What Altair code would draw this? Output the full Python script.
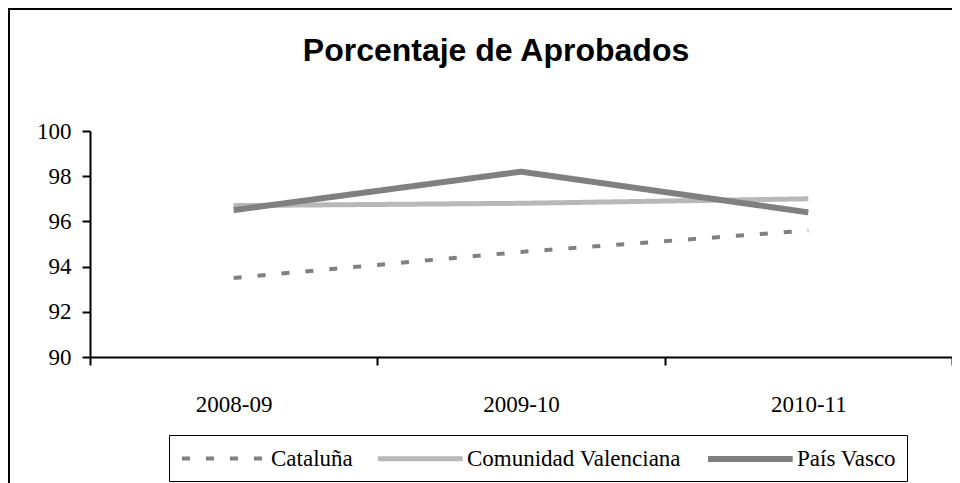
import altair as alt
import pandas as pd

periods = ["2008-09", "2009-10", "2010-11"]
series = ["Cataluña", "Comunidad Valenciana", "País Vasco"]
cataluna = [93.5, 94.65, 95.6]
valenciana = [96.7, 96.8, 97.0]
pais_vasco = [96.5, 98.2, 96.4]

rows = []
for name, vals in zip(series, [cataluna, valenciana, pais_vasco]):
    for p, v in zip(periods, vals):
        rows.append({"periodo": p, "serie": name, "valor": v})
df = pd.DataFrame(rows)

W, H = 862, 226
serif = "Liberation Serif"

lines = alt.Chart(df).mark_line(strokeCap="butt").encode(
    x=alt.X("periodo:N", sort=periods, title=None,
            scale=alt.Scale(paddingInner=0, paddingOuter=0),
            axis=alt.Axis(labelAngle=0, tickBand="extent", tickSize=8,
                          labelPadding=28, domainColor="black", tickColor="black",
                          domainWidth=2, tickWidth=2, labelFont=serif,
                          labelFontSize=23, labelColor="black", grid=False)),
    y=alt.Y("valor:Q", title=None,
            scale=alt.Scale(domain=[90, 100], nice=False, zero=False),
            axis=alt.Axis(values=[90, 92, 94, 96, 98, 100], tickSize=8,
                          labelPadding=11, domainColor="black", tickColor="black",
                          domainWidth=2, tickWidth=2, labelFont=serif,
                          labelFontSize=23, labelColor="black", grid=False)),
    color=alt.Color("serie:N", title=None,
                    scale=alt.Scale(domain=series, range=["#808080", "#b8b8b8", "#808080"]),
                    legend=alt.Legend(orient="none", legendX=79, legendY=304,
                                      direction="horizontal", columns=3,
                                      symbolType="M-1,0H6.7", symbolSize=484,
                                      symbolStrokeWidth=4, labelOffset=64,
                                      columnPadding=15, padding=10,
                                      strokeColor="black", fillColor="white",
                                      labelFont=serif, labelFontSize=23,
                                      labelColor="black", labelLimit=400)),
    strokeDash=alt.StrokeDash("serie:N", title=None,
                              scale=alt.Scale(domain=series, range=[[8, 16], [1, 0], [1, 0]])),
    strokeWidth=alt.StrokeWidth("serie:N", title=None, legend=None,
                                scale=alt.Scale(domain=series, range=[4, 6, 4])),
)

border = alt.Chart(pd.DataFrame({"a": [0]})).mark_rect(
    fillOpacity=0, stroke="black", strokeWidth=2
).encode(
    x=alt.value(-81), x2=alt.value(W + 40),
    y=alt.value(-122), y2=alt.value(H + 200),
)

chart = alt.layer(border, lines).properties(
    width=W, height=H,
    autosize=alt.AutoSizeParams(type="none"),
    padding={"left": 82, "top": 123, "right": 0, "bottom": 126},
    title=alt.TitleParams("Porcentaje de Aprobados", font="Liberation Sans",
                          fontSize=32, fontWeight="bold", color="black",
                          anchor="middle", frame="group", dx=-25, offset=-60),
).configure_view(stroke=None).configure_legend(labelFont=serif)

chart.save("out.html", embed_options={"renderer": "svg", "actions": False})
